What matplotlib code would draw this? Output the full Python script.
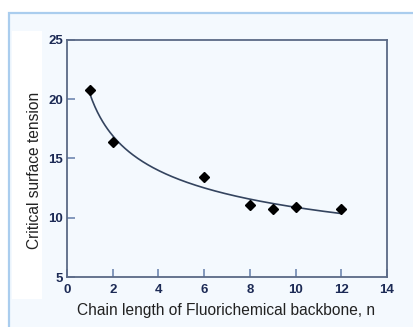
import numpy as np
import matplotlib
matplotlib.use("Agg")
import matplotlib.pyplot as plt
from matplotlib.patches import Rectangle
from matplotlib.font_manager import FontProperties

# Data
chain_length = [1, 2, 6, 8, 9, 10, 12]
surface_tension = [20.8, 16.4, 13.4, 11.05, 10.7, 10.9, 10.75]
x_ticks = [0, 2, 4, 6, 8, 10, 12, 14]
y_ticks = [5, 10, 15, 20, 25]
x_label = "Chain length of Fluorichemical backbone, n"
y_label = "Critical surface tension"

W, H = 414, 327
fig = plt.figure(figsize=(W / 100, H / 100), dpi=100)
fig.patch.set_facecolor("white")

panel_bg = "#f4f9fe"
# outer panel
fig.patches.append(Rectangle((9 / W, -0.05), 1.2, (H - 13) / H + 0.05,
                             transform=fig.transFigure, facecolor=panel_bg,
                             edgecolor="#aacdee", linewidth=1.6, zorder=0))
# white strip behind y label
fig.patches.append(Rectangle((12 / W, 1 - 299 / H), 30 / W, (299 - 31) / H,
                             transform=fig.transFigure, facecolor="white",
                             edgecolor="none", zorder=0.5))

ax = fig.add_axes([67 / W, 1 - 277 / H, 320 / W, 237 / H])
ax.set_zorder(2)
ax.set_facecolor(panel_bg)

# trend line: power-law fit to data
coef = np.polyfit(np.log(chain_length), np.log(surface_tension), 1)
xs = np.linspace(min(chain_length), max(chain_length), 200)
ax.plot(xs, np.exp(coef[1]) * xs ** coef[0], color="#34445f", linewidth=1.2, zorder=2)
ax.plot(chain_length, surface_tension, linestyle="none", marker="D",
        markersize=5.5, color="black", zorder=3)

ax.set_xlim(0, 14)
ax.set_ylim(5, 25)
ax.set_xticks(x_ticks)
ax.set_yticks(y_ticks)
spine_col = "#5b6a86"
for s in ax.spines.values():
    s.set_color(spine_col)
    s.set_linewidth(1.3)
tick_font = dict(family=["Liberation Sans Narrow", "Liberation Sans", "DejaVu Sans"],
                 weight="bold", size=9.5)
ax.tick_params(axis="both", direction="in", length=6, width=1.2, color="#6f88b0",
               labelcolor="#1c2a55")
ax.tick_params(axis="x", pad=5)
ax.tick_params(axis="y", pad=3)
for lab in ax.get_xticklabels() + ax.get_yticklabels():
    lab.set_fontproperties(FontProperties(**tick_font))

label_font = dict(family=["Liberation Sans", "DejaVu Sans"], size=11.2, color="#222222")
fig.text(226 / W, 1 - 310 / H, x_label, ha="center", va="center", zorder=3, **label_font)
fig.text(35 / W, 1 - 170 / H, y_label, ha="center", va="center", rotation=90, zorder=3,
         **label_font)

fig.savefig("out.png", dpi=100)
